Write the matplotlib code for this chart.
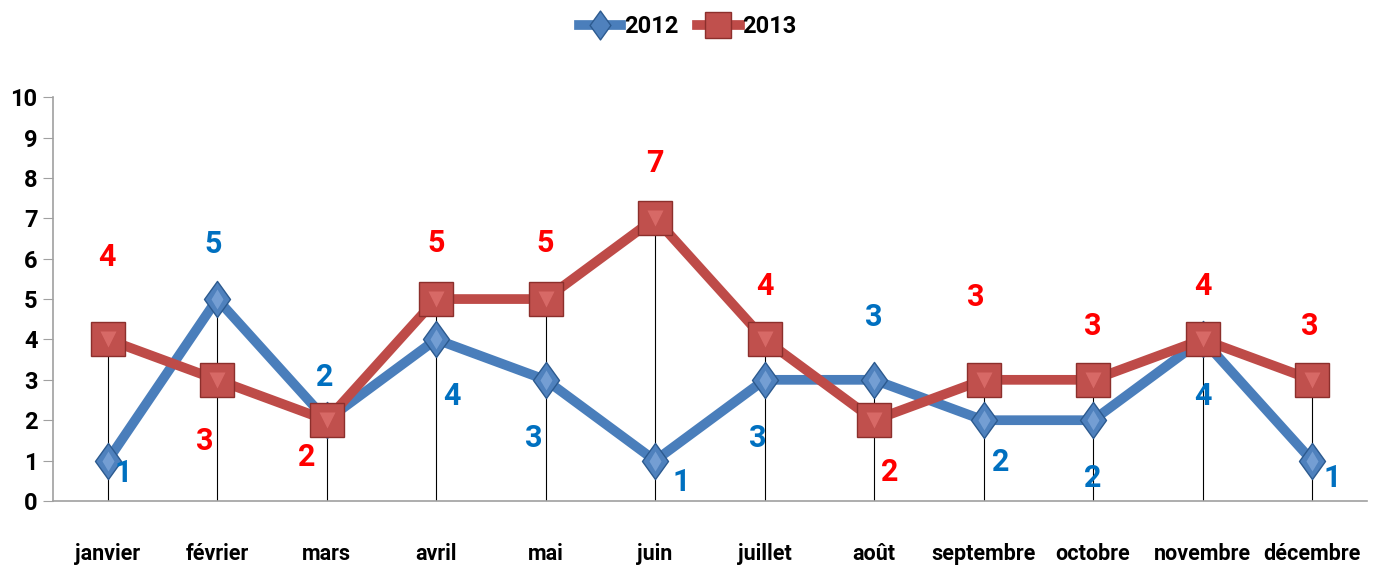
import numpy as np
import matplotlib.pyplot as plt
from matplotlib.path import Path

months = ['janvier', 'février', 'mars', 'avril', 'mai', 'juin', 'juillet',
          'août', 'septembre', 'octobre', 'novembre', 'décembre']
serie_2012 = [1, 5, 2, 4, 3, 1, 3, 3, 2, 2, 4, 1]
serie_2013 = [4, 3, 2, 5, 5, 7, 4, 2, 3, 3, 4, 3]

# label offsets in pixels (dx, dy), dy positive = up
off_2012 = [(16, -12), (-4, 55), (-2, 43), (16, -57), (-12, -58), (26, -21),
            (-7, -58), (0, 63), (17, -42), (0, -58), (0, -57), (20, -17)]
off_2013 = [(-1, 82), (-12, -61), (-20, -37), (0, 56), (0, 56), (0, 55),
            (0, 53), (16, -52), (-8, 83), (0, 54), (0, 53), (-2, 54)]

plt.rcParams['font.family'] = ['Roboto', 'DejaVu Sans']
plt.rcParams['font.weight'] = 'bold'

fig = plt.figure(figsize=(13.75, 5.68), dpi=100)
ax = fig.add_axes([0.0385, 0.118, 0.9555, 0.711])

x = np.arange(len(months))
tops = np.maximum(serie_2012, serie_2013)
ax.vlines(x, 0, tops, color='black', lw=0.8, zorder=1)

diamond = Path([(0, 1), (0.72, 0), (0, -1), (-0.72, 0), (0, 1)],
               [Path.MOVETO, Path.LINETO, Path.LINETO, Path.LINETO, Path.CLOSEPOLY])

l1, = ax.plot(x, serie_2012, color='#4A7EBB', lw=7, marker=diamond, ms=26,
              mfc='#4F81BD', mec='#2C5A8F', mew=1.0, zorder=3, label='2012')
ax.plot(x, serie_2012, ls='none', marker='d', ms=10, mfc='#8DB3E2', mec='none',
        alpha=0.6, zorder=3.5)
l2, = ax.plot(x, serie_2013, color='#BE4B48', lw=7, marker='s', ms=24,
              mfc='#C0504D', mec='#8C2F2C', mew=1.0, zorder=4, label='2013')
ax.plot(x, serie_2013, ls='none', marker='v', ms=11, mfc='#E87A78', mec='none',
        alpha=0.6, zorder=4.5)

for xi, v, (dx, dy) in zip(x, serie_2012, off_2012):
    ax.annotate(str(v), (xi, v), xytext=(dx, dy), textcoords='offset pixels',
                ha='center', va='center', color='#0070C0', fontsize=22, zorder=6)
for xi, v, (dx, dy) in zip(x, serie_2013, off_2013):
    ax.annotate(str(v), (xi, v), xytext=(dx, dy), textcoords='offset pixels',
                ha='center', va='center', color='#FF0000', fontsize=22, zorder=6)

ax.set_xlim(-0.5, len(months) - 0.5)
ax.set_ylim(0, 10)
ax.set_yticks(range(11))
ax.set_xticks(x)
ax.set_xticklabels(months)
ax.tick_params(axis='x', length=0, pad=30, labelsize=15.5)
ax.tick_params(axis='y', length=7, color='#A0A0A0', pad=4, labelsize=17)
for s in ['top', 'right']:
    ax.spines[s].set_visible(False)
for s in ['left', 'bottom']:
    ax.spines[s].set_color('#A0A0A0')
    ax.spines[s].set_linewidth(1.2)

fig.legend(handles=[l1, l2], loc='center', bbox_to_anchor=(0.5, 0.953), ncol=2,
           frameon=False, fontsize=17, handlelength=1.8, handletextpad=0.1,
           columnspacing=0.8, markerscale=0.8)

fig.savefig('out.png', dpi=100)
